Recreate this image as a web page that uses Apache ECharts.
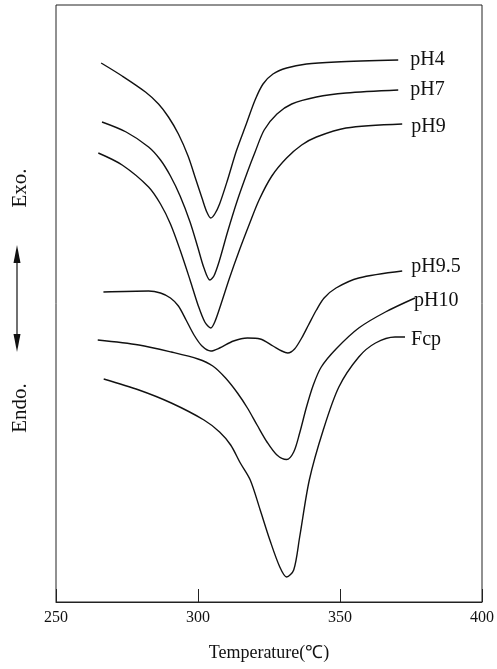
<!DOCTYPE html>
<html>
<head>
<meta charset="utf-8">
<script src="https://cdn.jsdelivr.net/npm/echarts@6/dist/echarts.min.js"></script>
<style>
  html, body { margin: 0; padding: 0; background: #fff; }
  #main { width: 497px; height: 669px; }
</style>
</head>
<body>
<div id="main"></div>
<script>
// DSC 曲线, 温度(℃) - 热流(任意单位)
var xTicks = [250, 300, 350, 400];
var names = ['pH4', 'pH7', 'pH9', 'pH9.5', 'pH10', 'Fcp'];

var ph4 = [[265.9,539],[273.3,526],[281.5,510],[286.1,498],[289.6,485],[293.1,468],[296.5,446],[299.3,422],[301.4,404],[303.1,390],[304.5,384],
  [305.9,388],[307.6,398],[310.4,422],[313.5,451],[317.0,478],[320.1,502],[322.9,518],[326.4,528],[331.2,534],[338.2,538],[348.6,540],[370.5,542]];
var ph7 = [[266.2,480],[274.7,470],[282.6,455],[286.8,442],[290.3,426],[293.7,406],[297.2,380],[300.0,354],[302.1,334],[304.2,322],
  [305.6,326],[307.6,342],[310.4,370],[313.9,402],[317.4,430],[320.1,450],[323.3,472],[327.8,488],[333.0,498],[341.7,505],[352.1,509],[370.5,512]];
var ph9 = [[264.9,449],[273.3,437],[282.6,415],[286.8,398],[290.3,378],[293.7,352],[297.2,322],[300.0,297],[302.4,280],[304.5,274],
  [305.9,280],[308.0,297],[311.1,324],[314.6,352],[318.1,378],[321.5,402],[326.0,426],[331.2,444],[336.5,457],[341.7,465],[352.1,474],[371.9,478]];
var ph95 = [[266.7,310],[282.6,311],[286.8,309],[290.3,304],[293.1,296],[295.8,282],[298.6,267],[301.4,256],[304.5,251],[307.6,254],
  [312.5,261],[317.4,264],[321.9,263],[326.4,256],[329.5,251],[331.6,249],[334.0,253],[336.5,264],[338.9,277],[341.7,292],[344.4,304],[348.6,314],[356.6,324],[371.9,331]];
var ph10 = [[264.7,262],[279.2,257],[290.6,250],[300.0,243],[305.2,236],[309.7,224],[313.9,209],[317.4,194],[320.8,177],[324.3,160],[327.8,147],[331.2,142.5],
  [333.7,150],[335.8,169],[338.2,195],[340.6,217],[343.4,235],[348.6,253],[356.6,274],[366.0,290],[376.4,304]];
var fcp = [[266.8,223],[279.2,212],[290.6,199],[302.1,182],[307.6,170],[311.5,157],[314.9,139],[318.4,122],[321.9,92],[325.3,62],[328.8,35],[331.2,25],
  [333.7,32],[335.8,65],[339.2,122],[344.1,172],[349.6,215],[356.6,245],[362.5,259],[369.4,265],[372.9,265]];

var allData = [ph4, ph7, ph9, ph95, ph10, fcp];
// 标签相对曲线末端的偏移
var labelOffset = [[12,0],[12,0],[9,3],[9,-4],[-1,3],[6,3]];

var serif = "'Liberation Serif', 'Times New Roman', serif";

var myChart = echarts.init(document.getElementById('main'));

var series = [];
for (var i = 0; i < names.length; i++) {
  series.push({
    name: names[i],
    type: 'line',
    data: allData[i],
    smooth: 0.3,
    showSymbol: false,
    lineStyle: { color: '#111', width: 1.4 },
    endLabel: {
      show: true,
      formatter: '{a}',
      distance: 0,
      offset: labelOffset[i],
      color: '#111',
      fontFamily: serif,
      fontSize: 20
    },
    silent: true
  });
}

var option = {
  animation: false,
  grid: {
    left: 56, right: 9, top: 5, bottom: 67,
    show: true,
    borderColor: '#222',
    borderWidth: 1
  },
  xAxis: {
    type: 'value',
    min: 250, max: 400, interval: 50,
    name: 'Temperature(℃)',
    nameLocation: 'middle',
    nameGap: 42,
    nameTextStyle: { color: '#111', fontFamily: serif, fontSize: 18 },
    axisLine: { show: true, lineStyle: { color: '#222' } },
    axisTick: { show: true, inside: true, length: 13, lineStyle: { color: '#222' } },
    axisLabel: { color: '#111', fontFamily: serif, fontSize: 16, margin: 8 },
    splitLine: { show: false }
  },
  yAxis: {
    type: 'value',
    min: 0, max: 597,
    axisLine: { show: false },
    axisTick: { show: false },
    axisLabel: { show: false },
    splitLine: { show: false }
  },
  graphic: [
    { type: 'text', x: 20, y: 188, rotation: Math.PI / 2,
      style: { text: 'Exo.', font: '21px ' + serif, fill: '#111', align: 'center', verticalAlign: 'middle' } },
    { type: 'text', x: 20, y: 408, rotation: Math.PI / 2,
      style: { text: 'Endo.', font: '21px ' + serif, fill: '#111', align: 'center', verticalAlign: 'middle' } },
    { type: 'line', shape: { x1: 17, y1: 258, x2: 17, y2: 340 }, style: { stroke: '#111', lineWidth: 1.2 } },
    { type: 'polygon', shape: { points: [[17, 245], [13.5, 263], [20.5, 263]] }, style: { fill: '#111' } },
    { type: 'polygon', shape: { points: [[17, 352], [13.5, 334], [20.5, 334]] }, style: { fill: '#111' } }
  ],
  series: series
};

myChart.setOption(option);
</script>
</body>
</html>
